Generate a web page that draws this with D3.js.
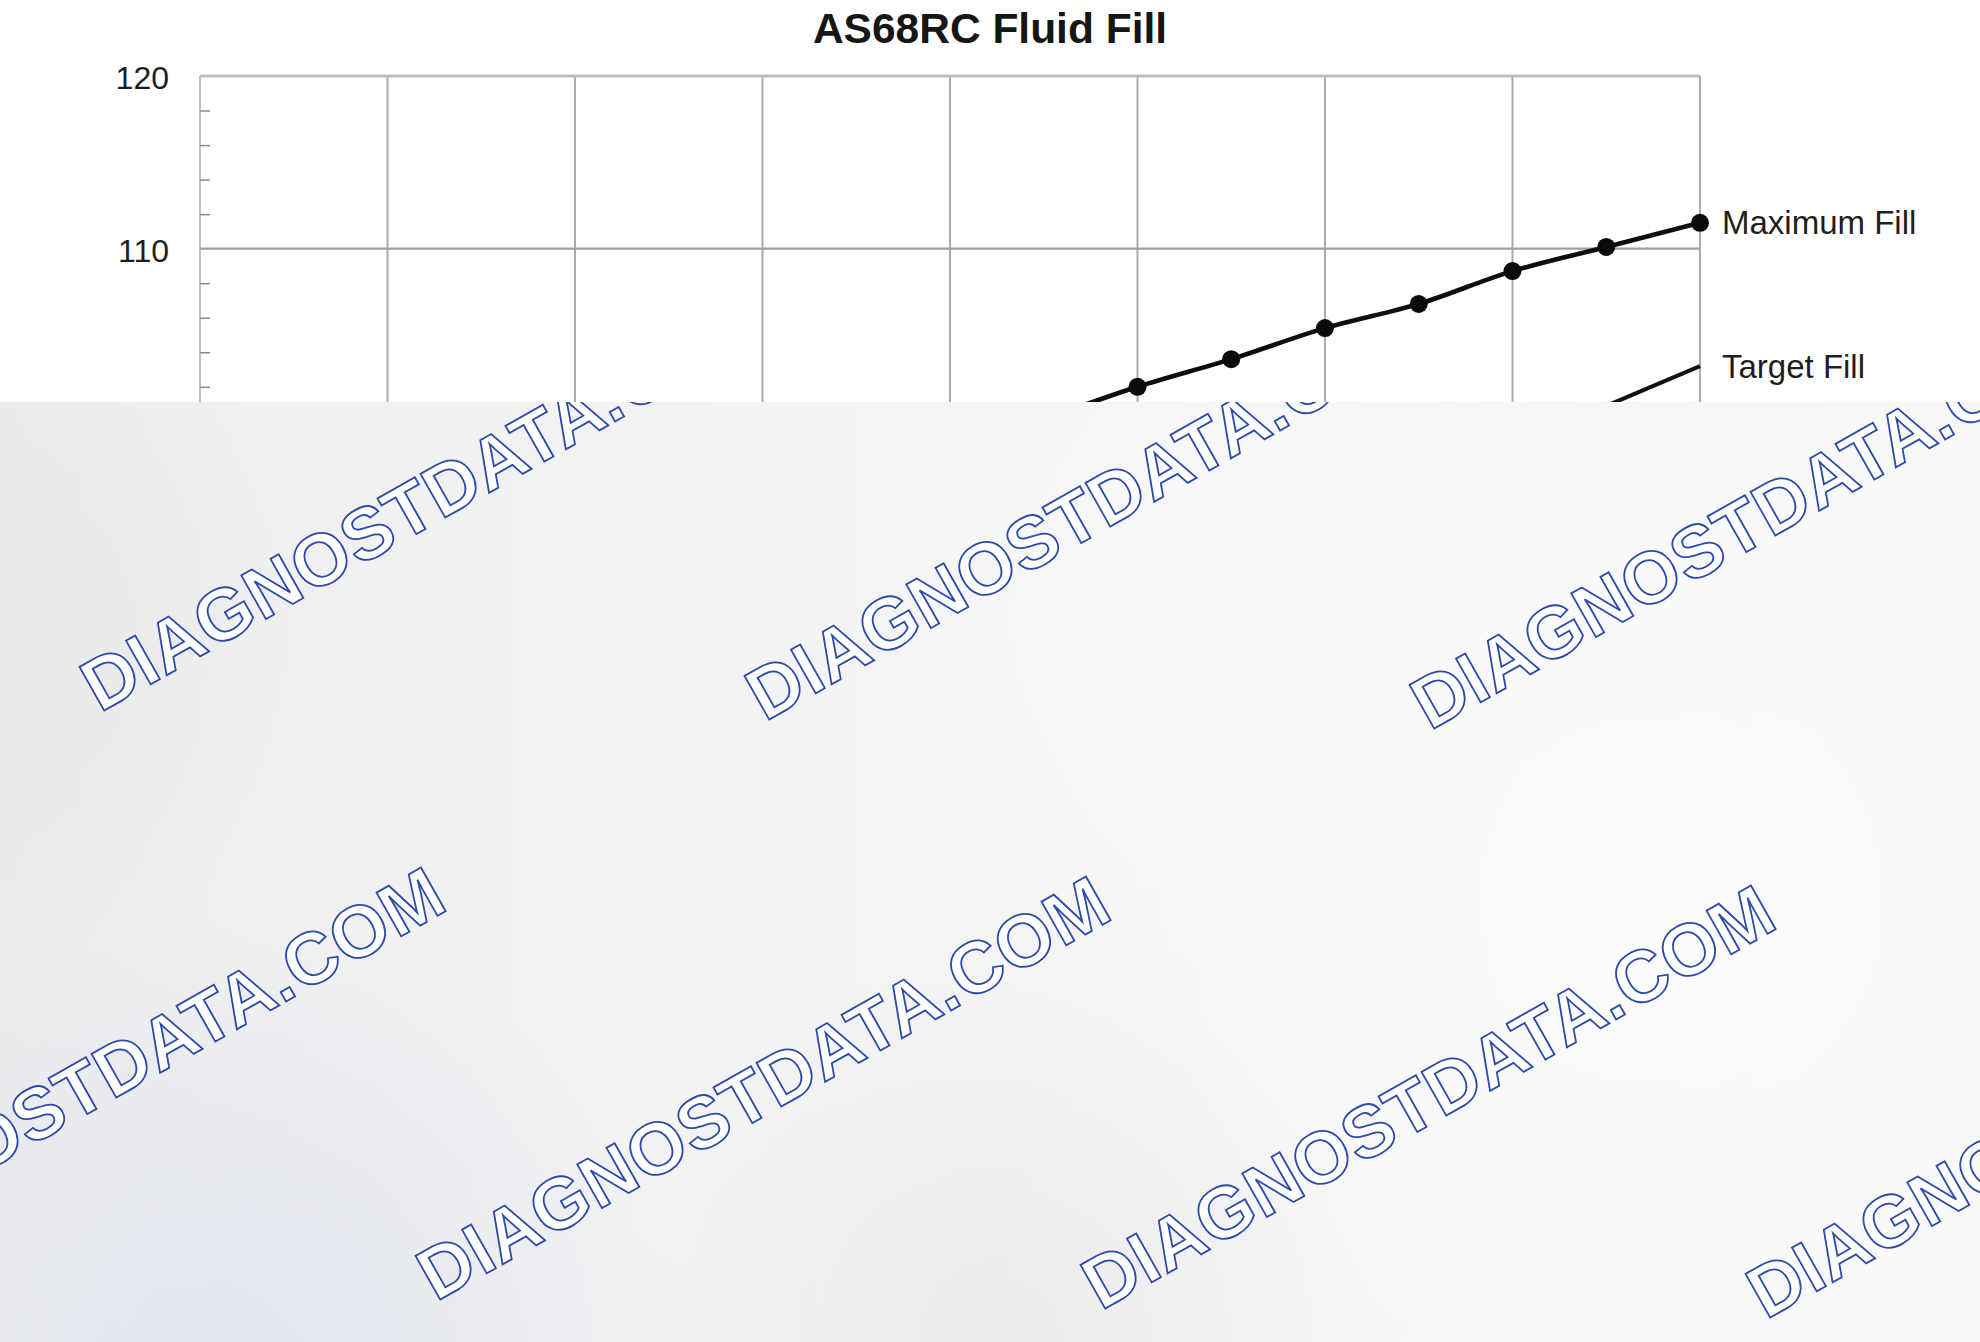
<!DOCTYPE html>
<html><head><meta charset="utf-8">
<script src="https://cdn.jsdelivr.net/npm/d3@7"></script>
<style>body{margin:0;background:#fff}svg{display:block}</style>
</head><body><svg id="c" width="1980" height="1342"></svg>
<script>
// ---- data ----
const title = "AS68RC Fluid Fill";
const xTicks = [0, 10, 20, 30, 40, 50, 60, 70, 80];
const yTicks = [90, 100, 110, 120];
const yMinorTicks = [92, 94, 96, 98, 102, 104, 106, 108, 112, 114, 116, 118];
const maxFillX = [45, 50, 55, 60, 65, 70, 75, 80];
const maxFillY = [100.1, 102.0, 103.6, 105.4, 106.8, 108.7, 110.1, 111.5];
const targetFillX = [75, 80];
const targetFillY = [100.9, 103.2];
const seriesNames = ["Maximum Fill", "Target Fill"];
const watermarkText = "DIAGNOSTDATA.COM";

// ---- layout ----
const W = 1980, H = 1342;
const plot = {left: 200, right: 1700, top: 76, bottom: 594};
const overlayTop = 402;
const FONT = "'Liberation Sans', Arial, Helvetica, sans-serif";

const svg = d3.select("#c");
const x = d3.scaleLinear().domain([0, 80]).range([plot.left, plot.right]);
const y = d3.scaleLinear().domain([90, 120]).range([plot.bottom, plot.top]);

// title
svg.append("text").attr("x", W / 2).attr("y", 43)
  .attr("text-anchor", "middle").attr("font-family", FONT)
  .attr("font-weight", "bold").attr("font-size", 42.5).attr("fill", "#161616")
  .text(title);

const g = svg.append("g");

// vertical grid
g.append("g").selectAll("line").data(xTicks).join("line")
  .attr("x1", d => x(d)).attr("x2", d => x(d))
  .attr("y1", y(120)).attr("y2", y(90))
  .attr("stroke", d => d === 0 ? "#c4c4c4" : "#ababab").attr("stroke-width", 2);

// horizontal grid
g.append("g").selectAll("line").data(yTicks).join("line")
  .attr("x1", plot.left).attr("x2", plot.right)
  .attr("y1", d => y(d)).attr("y2", d => y(d))
  .attr("stroke", d => d === 120 ? "#bdbdbd" : "#a0a0a0")
  .attr("stroke-width", d => d === 120 ? 3 : 2.2);

// minor ticks (inside)
const minor = g.append("g").attr("transform", `translate(${plot.left},0)`)
  .call(d3.axisRight(y).tickValues(yMinorTicks).tickSize(10).tickFormat(""));
minor.select(".domain").remove();
minor.selectAll("line").attr("stroke", "#8a8a8a").attr("stroke-width", 1.5);

// y axis labels
const ya = g.append("g").attr("transform", `translate(${plot.left},0)`)
  .call(d3.axisLeft(y).tickValues(yTicks).tickSize(0).tickPadding(31).tickFormat(d3.format("d")));
ya.select(".domain").remove();
ya.selectAll("text").attr("font-family", FONT).attr("font-size", 32)
  .attr("fill", "#1e1e1e").attr("dy", "0.4em");

// series
const lineGen = d3.line().x(d => x(d[0])).y(d => y(d[1])).curve(d3.curveMonotoneX);
const maxData = maxFillX.map((v, i) => [v, maxFillY[i]]);
const targetData = targetFillX.map((v, i) => [v, targetFillY[i]]);

g.append("path").datum(targetData).attr("d", lineGen)
  .attr("fill", "none").attr("stroke", "#111").attr("stroke-width", 4);
g.append("path").datum(maxData).attr("d", lineGen)
  .attr("fill", "none").attr("stroke", "#0e0e0e").attr("stroke-width", 4.6);
g.append("g").selectAll("circle").data(maxData).join("circle")
  .attr("cx", d => x(d[0])).attr("cy", d => y(d[1])).attr("r", 9).attr("fill", "#0b0b0b");

// series labels at line ends
[[maxData, seriesNames[0]], [targetData, seriesNames[1]]].forEach(([data, name]) => {
  const last = data[data.length - 1];
  g.append("text").attr("x", x(last[0]) + 22).attr("y", y(last[1]))
    .attr("dy", "0.35em").attr("font-family", FONT).attr("font-size", 33)
    .attr("fill", "#1e1e1e").text(name);
});

// ---- overlay panel ----
const defs = svg.append("defs");
const lg = defs.append("linearGradient").attr("id", "ovBase").attr("x1", 0).attr("x2", 1).attr("y1", 0).attr("y2", 0);
[[0, "#ececed"], [0.12, "#f0f0f1"], [0.45, "#f4f4f5"], [1, "#f8f8f9"]].forEach(([o, c]) =>
  lg.append("stop").attr("offset", o).attr("stop-color", c));

function radial(id, cx, cy, r, color, op) {
  const rg = defs.append("radialGradient").attr("id", id)
    .attr("gradientUnits", "userSpaceOnUse").attr("cx", cx).attr("cy", cy).attr("r", r);
  rg.append("stop").attr("offset", 0).attr("stop-color", color).attr("stop-opacity", op);
  rg.append("stop").attr("offset", 1).attr("stop-color", color).attr("stop-opacity", 0);
}
radial("rBlue", 230, 1380, 460, "#dde2ed", 0.8);
radial("rGray", 1000, 1340, 380, "#e6e6e8", 0.6);
radial("rLeft", 0, 640, 320, "#e8e8e9", 0.8);
radial("rWhite", 1650, 900, 520, "#fdfdfd", 0.85);
radial("rWhite2", 1250, 620, 380, "#fbfbfb", 0.6);

defs.append("clipPath").attr("id", "ovClip").append("rect")
  .attr("x", 0).attr("y", overlayTop).attr("width", W).attr("height", H - overlayTop);

const ov = svg.append("g").attr("clip-path", "url(#ovClip)");
["ovBase", "rLeft", "rWhite", "rWhite2", "rBlue", "rGray"].forEach(id =>
  ov.append("rect").attr("x", 0).attr("y", overlayTop).attr("width", W).attr("height", H - overlayTop)
    .attr("fill", `url(#${id})`));

// watermark grid
const wmRows = [{x0: 100, y0: 713}, {x0: 436, y0: 1302}];
const wmStep = {dx: 665, dy: 9};
const wm = [];
wmRows.forEach(r => { for (let i = -1; i <= 3; i++) wm.push([r.x0 + i * wmStep.dx, r.y0 + i * wmStep.dy]); });
ov.append("g").selectAll("text").data(wm).join("text")
  .attr("transform", d => `translate(${d[0]},${d[1]}) rotate(-29.5)`)
  .attr("font-family", FONT).attr("font-weight", "bold").attr("font-size", 73)
  .attr("textLength", 780).attr("lengthAdjust", "spacing")
  .attr("fill", "#ffffff").attr("stroke", "#2c4aa8").attr("stroke-width", 1.8)
  .text(watermarkText);
</script></body></html>
